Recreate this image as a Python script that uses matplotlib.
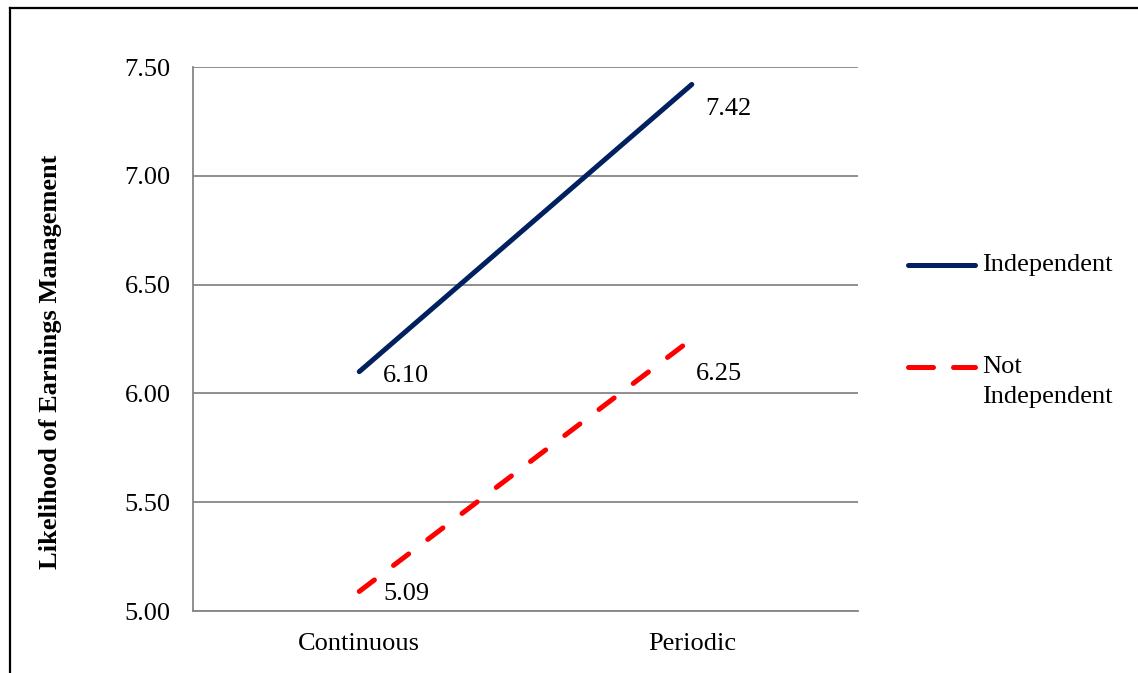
import numpy as np
import matplotlib.pyplot as plt
from matplotlib.lines import Line2D

# Data
categories = ["Continuous", "Periodic"]
independent = [6.10, 7.42]
not_independent = [5.09, 6.25]
yticks = [5.00, 5.50, 6.00, 6.50, 7.00, 7.50]

plt.rcParams['font.family'] = ['Liberation Serif', 'DejaVu Serif']
fs = 19

fig = plt.figure(figsize=(11.38, 6.73), dpi=100)
ax = fig.add_axes([0.1696, 0.0921, 0.5844, 0.8083])

x = np.arange(len(categories)) + 0.5
navy = '#002060'
red = '#FF0000'
lw = 3.6
dash = (3.8, 4.8)

ax.plot(x, independent, color=navy, lw=lw, solid_capstyle='round')
ax.plot(x, not_independent, color=red, lw=lw, dashes=dash,
        dash_capstyle='round')

# data labels (offsets in points, placed by hand like the original)
offsets_ind = [(17, -3), (10, -18)]
offsets_not = [(17, -2), (3, -25)]
for xi, v, off in zip(x, independent, offsets_ind):
    ax.annotate(f"{v:.2f}", (xi, v), xytext=off, textcoords='offset points',
                fontsize=fs, ha='left', va='center')
for xi, v, off in zip(x, not_independent, offsets_not):
    ax.annotate(f"{v:.2f}", (xi, v), xytext=off, textcoords='offset points',
                fontsize=fs, ha='left', va='center')

ax.set_xlim(0, 2)
ax.set_ylim(5.0, 7.5)
ax.set_xticks(x)
ax.set_xticklabels(categories, fontsize=fs)
ax.set_yticks(yticks)
ax.set_yticklabels([f"{t:.2f}" for t in yticks], fontsize=fs)
ax.tick_params(axis='both', length=0)
ax.tick_params(axis='y', pad=16)
ax.tick_params(axis='x', pad=16)
ax.grid(axis='y', color='#868686', lw=1.3)
ax.set_axisbelow(True)
for s in ['top', 'right']:
    ax.spines[s].set_visible(False)
for s in ['left', 'bottom']:
    ax.spines[s].set_color('#868686')
    ax.spines[s].set_linewidth(1.3)

fig.text(51 / 1138, 1 - 362 / 673, "Likelihood of Earnings Management",
         rotation=90, fontsize=fs, fontweight='bold', ha='center', va='center')

# legend drawn by hand
fig.add_artist(Line2D([908 / 1138, 975 / 1138], [1 - 265 / 673] * 2,
                      transform=fig.transFigure, color=navy, lw=lw,
                      solid_capstyle='round'))
fig.text(982 / 1138, 1 - 265 / 673, "Independent", fontsize=fs, va='center')
fig.add_artist(Line2D([908 / 1138, 975 / 1138], [1 - 367 / 673] * 2,
                      transform=fig.transFigure, color=red, lw=lw,
                      dashes=(5.0, 4.0), dash_capstyle='round'))
fig.text(982 / 1138, 1 - 367 / 673, "Not", fontsize=fs, va='center')
fig.text(982 / 1138, 1 - 397 / 673, "Independent", fontsize=fs, va='center')

# outer frame (left and top edges visible)
fig.add_artist(Line2D([10 / 1138, 10 / 1138], [0, 1 - 8 / 673],
                      transform=fig.transFigure, color='black', lw=1.6))
fig.add_artist(Line2D([10 / 1138, 1], [1 - 8 / 673] * 2,
                      transform=fig.transFigure, color='black', lw=1.6))

fig.savefig("out.png", dpi=100)
